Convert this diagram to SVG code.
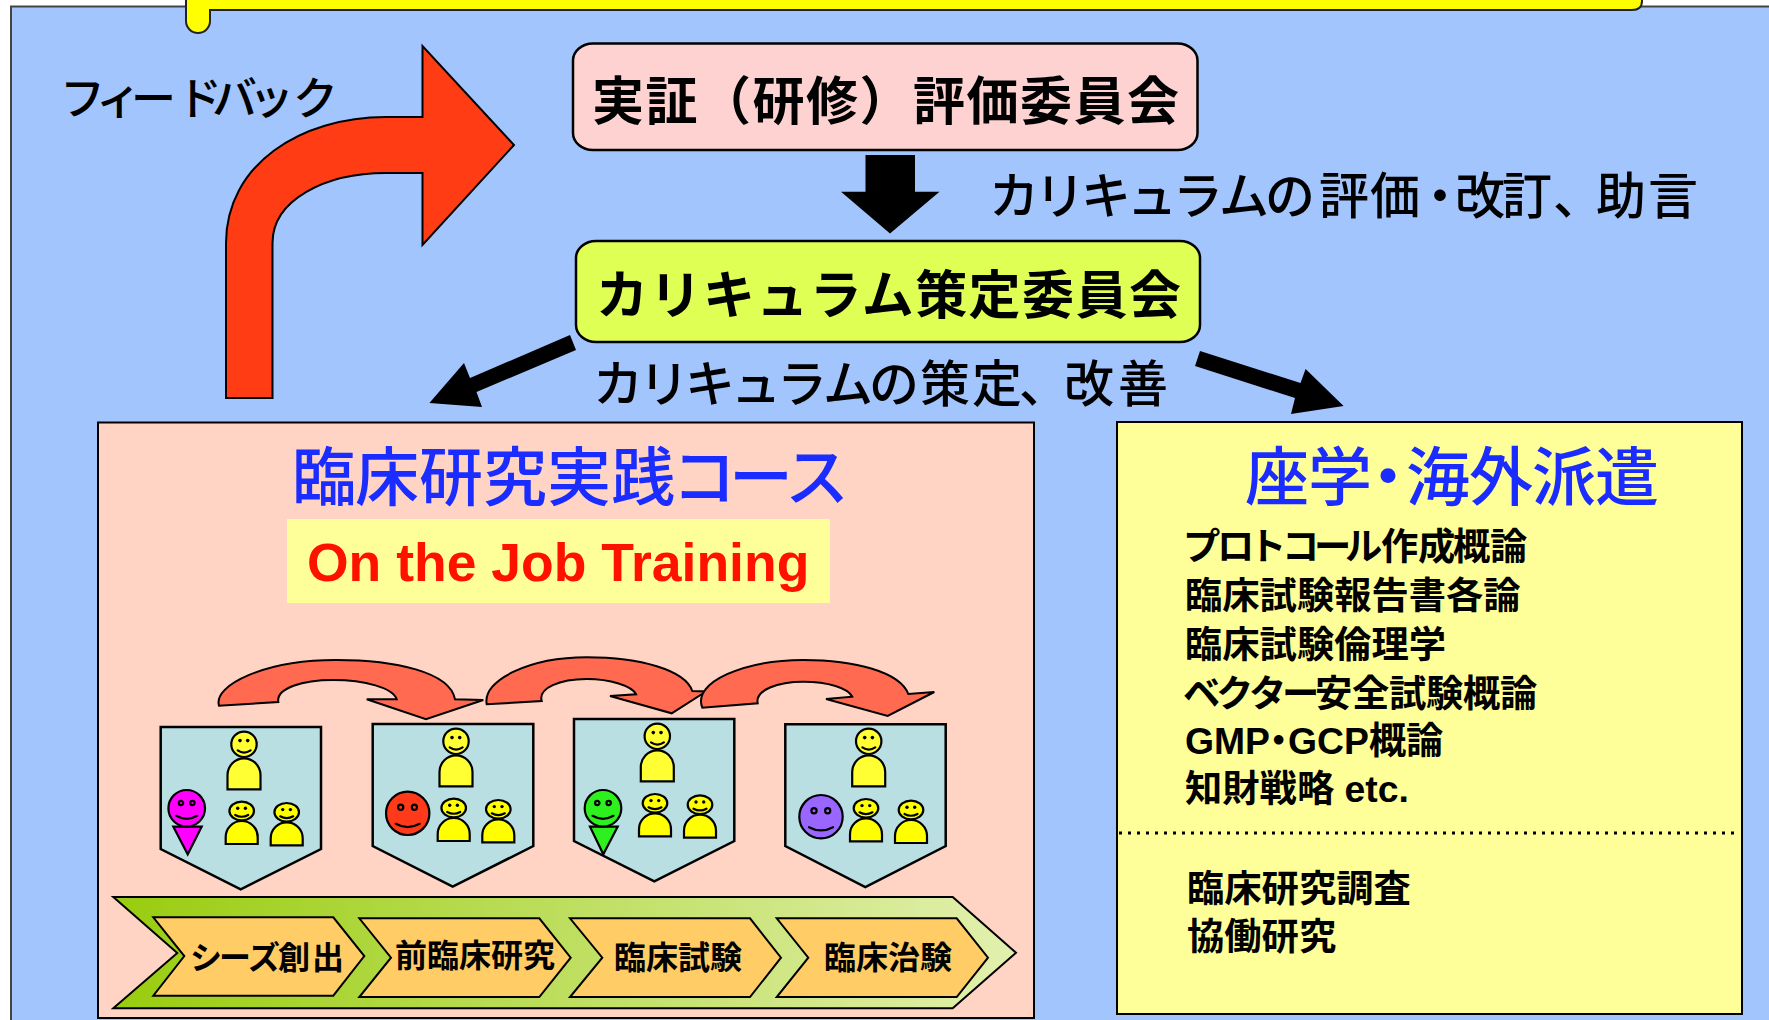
<svg xmlns="http://www.w3.org/2000/svg" xmlns:xlink="http://www.w3.org/1999/xlink" width="1769" height="1020" viewBox="0 0 1769 1020">
<style>
text{font-family:"Liberation Sans","Noto Sans CJK JP",sans-serif;fill:#000}
.b{font-weight:700}
.sh{fill:#b9dfe3;stroke:#000;stroke-width:2.500}
.curve{fill:#ff6a50;stroke:#000;stroke-width:2}
.ch{fill:#ffcc66;stroke:#000;stroke-width:2}
.head{stroke:#000;stroke-width:2.200}
.f{fill:none;stroke:#000;stroke-width:2.200;stroke-linecap:round}
.ey{fill:#000}
.list{font-size:37.3px;font-weight:700}
.ttl{font-size:64px;font-weight:500;fill:#1a2cff}
.lab{font-size:32px;font-weight:700}
.sub{font-size:50px;font-weight:500}
</style>
<defs>
<linearGradient id="g" x1="0" y1="0" x2="1" y2="0"><stop offset="0" stop-color="#99cc0f"/><stop offset="1" stop-color="#e2f0ae"/></linearGradient>
<g id="big"><path class="head" fill="#ffff33" d="M-16.500 45V31A16.500 17 0 0 1 16.500 31V45Z"/><circle class="head" fill="#ffff33" r="12.700"/><circle class="ey" cx="-4" cy="-3.700" r="1.800"/><circle class="ey" cx="3.700" cy="-3.700" r="1.800"/><path class="f" d="M-6.300 6Q0 10.500 6.600 6"/></g>
<g id="small"><path class="head" fill="#ffff00" d="M-16 33V26A16 16 0 0 1 16 26V33Z"/><ellipse class="head" fill="#ffff00" rx="12.300" ry="9.300"/><circle class="ey" cx="-4" cy="-2.700" r="1.700"/><circle class="ey" cx="3.700" cy="-2.700" r="1.700"/><path class="f" d="M-6.500 4Q0 7.500 6.500 4"/></g>
<g id="fm"><circle class="f" cx="-5.700" cy="-5.300" r="2.200"/><circle class="f" cx="5.700" cy="-5.300" r="2.200"/><path class="f" d="M-10.500 7.500Q0 13.500 10.500 7.500"/></g>
<g id="fl"><circle class="f" cx="-7" cy="-6" r="2.600"/><circle class="f" cx="6.700" cy="-6" r="2.600"/><path class="f" d="M-12 10.500Q0 17 12 10.500"/></g>
</defs>
<rect width="1769" height="1020" fill="#fff"/>
<rect id="panel" x="11" y="6.500" width="1770" height="1030" fill="#a2c5fe" stroke="#444" stroke-width="2"/>
<g id="banner"><path d="M186 -5H1642V1Q1642 10 1632 10H210V21A12 12 0 0 1 186 21Z" fill="#ffff00" stroke="#222" stroke-width="2"/></g>

<g id="connectors">
<path d="M226 398V243C226 165 300 117 386 117H422.500V46L514 145L422.500 245V173H386C325 173 272.500 200 272.500 243V398Z" fill="#ff3c14" stroke="#000" stroke-width="2"/>
<path d="M865.500 155H915V191.700H939.500L890 233.500L841 191.700H865.500Z" fill="#000"/>
<path d="M570 335L576 350L476.500 392L482 407L429.400 403L464 363L470 378Z" fill="#000"/>
<path d="M1200 351L1195 366L1295 398L1291 414L1343.600 406L1305.600 369L1300.500 383Z" fill="#000"/>
</g>

<g id="node-eval"><rect x="573" y="43.500" width="624.500" height="106.500" rx="20" ry="17" fill="#ffd2d2" stroke="#000" stroke-width="2.500"/><text class="b" x="592" y="120" font-size="52" textLength="587">実証（研修）評価委員会</text></g>
<g id="node-curr"><rect x="576" y="241" width="624" height="101" rx="20" ry="17" fill="#e0ff55" stroke="#000" stroke-width="2.500"/><text class="b" x="596" y="314" font-size="52" textLength="585">カリキュラム策定委員会</text></g>

<text id="t-feedback" font-size="45" font-weight="500" y="115" x="60 96 131 177 212 249 293">フィードバック</text>
<text id="t-rev" class="sub" y="214" x="989 1035 1081 1127 1173 1219 1265 1319 1370 1415 1455 1502 1553 1596 1648">カリキュラムの評価・改訂、助言</text>
<text id="t-make" class="sub" y="402" x="593 639 685 731 777 823 869 920 972 1019 1064 1118">カリキュラムの策定、改善</text>

<g id="course">
<rect x="98" y="422.500" width="936" height="595.500" fill="#ffd4c4" stroke="#000" stroke-width="2"/>
<text class="ttl" y="500" x="292 355 419 483 547 611 672 729 785">臨床研究実践コース</text>
<rect x="287" y="519" width="543" height="84" fill="#ffff99"/>
<text x="307" y="581" font-size="53.500" font-weight="700" style="fill:#ff1100">On the Job Training</text>
</g>

<g id="curves">
<path class="curve" d="M219 705.700C213 685 265 660 336 660C395 660 450 672 455 699.300L483.300 700L426 719.300L366.700 699.300L396.700 699.300C393 688 365 680 333 680C303 680 276 688 278.300 702Z"/>
<path class="curve" d="M486.700 704.300C482 680 530 657.300 586.700 657.300C640 657.300 685 670 692.300 691L706 691.500L671.700 713.300L610 696L636 694.300C632 686 610 679 586.700 679C560 679 538 688 541.700 701Z"/>
<path class="curve" d="M702.300 707.700C692 682 745 660 803.300 660C855 660 900 672 908.300 694L934.300 692L887.700 716L826 699L852.300 696.700C848 688 828 681.700 803.300 681.700C778 681.700 755 690 757.700 703.300Z"/>
</g>

<g id="team1">
<path class="sh" d="M160.700 727H321V849L240.700 889.300L160.700 849Z"/>
<use xlink:href="#big" href="#big" x="244" y="744.300"/><use href="#small" x="241.700" y="811"/><use href="#small" x="286.700" y="812.300"/>
<path class="head" fill="#ff00ff" d="M173.300 826.700H201.700L187.700 854.300Z"/><circle class="head" fill="#ff00ff" cx="186.700" cy="808.300" r="18.300"/><use href="#fm" x="186.700" y="808.300"/>
</g>
<g id="team2">
<path class="sh" d="M372.700 724H533.300V846L452.700 886.700L372.700 846Z"/>
<use href="#big" x="456" y="741.300"/><use href="#small" x="453.700" y="808"/><use href="#small" x="498.300" y="809.300"/>
<circle class="head" fill="#ff3a1a" cx="407.700" cy="813.300" r="21.700"/><use href="#fl" x="407.700" y="813.300"/>
</g>
<g id="team3">
<path class="sh" d="M574 719H734.300V841L654.300 881.300L574 841Z"/>
<use href="#big" x="657.300" y="736.300"/><use href="#small" x="655" y="803.300"/><use href="#small" x="700" y="804.700"/>
<path class="head" fill="#2ef01f" d="M590 826.700H617.700L603.300 854.300Z"/><circle class="head" fill="#2ef01f" cx="603" cy="808.300" r="18.300"/><use href="#fm" x="603" y="808.300"/>
</g>
<g id="team4">
<path class="sh" d="M785.300 724.300H945.700V846L865.300 887L785.300 846Z"/>
<use href="#big" x="868.700" y="741.300"/><use href="#small" x="866" y="808.300"/><use href="#small" x="911" y="810"/>
<circle class="head" fill="#9966ff" cx="821" cy="816.700" r="21.700"/><use href="#fl" x="821" y="816.700"/>
</g>

<g id="process">
<path d="M113.300 897H952.700L1016 952.700L952.700 1008.300H113.300L177.300 953Z" fill="url(#g)" stroke="#000" stroke-width="2"/>
<g id="step1"><path class="ch" d="M153.300 917.300H333.300L364.300 956L333.300 995.700H153.300L184.300 956Z"/><text class="lab" y="969" x="190 219 248 278 312">シーズ創出</text></g>
<g id="step2"><path class="ch" d="M359.300 918.300H539.300L570.700 957.700L539.300 997H359.300L391 957.700Z"/><text class="lab" x="395" y="967">前臨床研究</text></g>
<g id="step3"><path class="ch" d="M570 918.300H750L781 957.700L750 997H570L602.300 957.700Z"/><text class="lab" x="614" y="969">臨床試験</text></g>
<g id="step4"><path class="ch" d="M776.700 918.300H956.700L988 957.700L956.700 997H776.700L808.300 957.700Z"/><text class="lab" x="824" y="969">臨床治験</text></g>
</g>

<g id="lecture">
<rect x="1117" y="422" width="625" height="592" fill="#ffff99" stroke="#000" stroke-width="2"/>
<text class="ttl" y="500" x="1245 1308 1356 1406 1469 1532 1595">座学・海外派遣</text>
<text class="list" y="560" x="1183 1217 1249 1282 1314 1345 1381 1418 1453 1490">プロトコール作成概論</text>
<text class="list" x="1185" y="609">臨床試験報告書各論</text>
<text class="list" x="1185" y="658">臨床試験倫理学</text>
<text class="list" y="707" x="1183 1216 1249 1282 1315 1352 1389 1426 1463 1500">ベクター安全試験概論</text>
<text class="list" y="754" x="1185 1214 1245 1260 1288 1317 1344 1369 1406">GMP・GCP概論</text>
<text class="list" x="1185" y="802">知財戦略 etc.</text>
<line x1="1119" y1="833" x2="1740" y2="833" stroke="#000" stroke-width="3" stroke-dasharray="3 6"/>
<text class="list" x="1187" y="902">臨床研究調査</text>
<text class="list" x="1187" y="950">協働研究</text>
</g>
</svg>
